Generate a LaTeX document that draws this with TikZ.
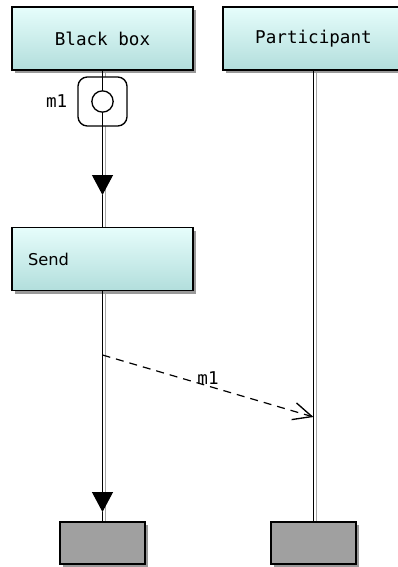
\documentclass[tikz,border=0pt]{standalone}
\usepackage{fontspec}
\setmonofont{DejaVu Sans Mono}
\setsansfont{DejaVu Sans}
\usetikzlibrary{positioning,arrows.meta,shadows,backgrounds}
\definecolor{boxtop}{RGB}{230,253,251}
\definecolor{boxbottom}{RGB}{178,222,220}
\definecolor{endgray}{RGB}{160,160,160}

\begin{document}
\begin{tikzpicture}[x=0.75pt,y=-0.75pt, every node/.style={font=\ttfamily\fontsize{13.2}{15}\selectfont},
    boxshadow/.style={drop shadow={shadow xshift=2.5pt,shadow yshift=-2.5pt,fill=black!40,opacity=1}},
    headbox/.style={draw,line width=1pt,top color=boxtop,bottom color=boxbottom,minimum width=135.75pt,minimum height=47.25pt,boxshadow},
    endbox/.style={draw,line width=1pt,fill=endgray,minimum width=63.75pt,minimum height=31.5pt,boxshadow},
    lifeline/.style={line width=0.9pt},
    shadowline/.style={line width=0.9pt,draw=black!35},
    endtip/.style={-{Triangle[width=15.75pt,length=15pt]}}]
      \useasboundingbox (0,0) rectangle (398,567);
      \node[headbox] at (102.5,38.5) (blackbox) {Black box};
      \node[headbox] at (313.5,38.5) (participant) {Participant};
      \node[draw,fill=white,line width=1pt,rounded corners=7pt,minimum size=36.75pt] at (102.5,101.5) (port) {};
      \node[draw,fill=white,circle,line width=1pt,inner sep=0pt,minimum size=16pt] at (port.center) (portdot) {};
      \node[left=4pt of port] (portname) {m1};
      \node[headbox,text width=111.75pt,inner xsep=12pt,align=left,font=\sffamily\fontsize{12.2}{14}\selectfont] at (102.5,259) (send) {Send};
      \node[endbox] at (102.5,543) (endleft) {};
      \node[endbox] at (313.5,543) (endright) {};
      \coordinate (tipone) at (102.5,195);
      \coordinate (tiptwo) at (102.5,512);
      \coordinate (msgfrom) at (102.5,355);
      \coordinate (msgto) at (313.5,417);
      \begin{scope}[on background layer]
        \draw[shadowline] ([xshift=2.5pt]blackbox.south) -- ([xshift=2.5pt]endleft.north);
        \draw[shadowline] ([xshift=2.5pt]participant.south) -- ([xshift=2.5pt]endright.north);
      \end{scope}
      \draw[lifeline] (blackbox.south) -- (port.north);
      \draw[lifeline] (port.north) -- (portdot.north);
      \draw[lifeline] (portdot.south) -- (port.south);
      \draw[lifeline,endtip] (port.south) -- (tipone);
      \draw[lifeline] (tipone) -- (send.north);
      \draw[lifeline,endtip] (send.south) -- (tiptwo);
      \draw[lifeline] (tiptwo) -- (endleft.north);
      \draw[lifeline] (participant.south) -- (endright.north);
      \draw[line width=0.9pt,dash pattern=on 6pt off 4.5pt,-{Straight Barb[length=14pt,width=13pt,line width=1pt]}] (msgfrom) -- node[above,inner sep=1pt] (msgname) {m1} (msgto);
    \end{tikzpicture}
\end{document}
